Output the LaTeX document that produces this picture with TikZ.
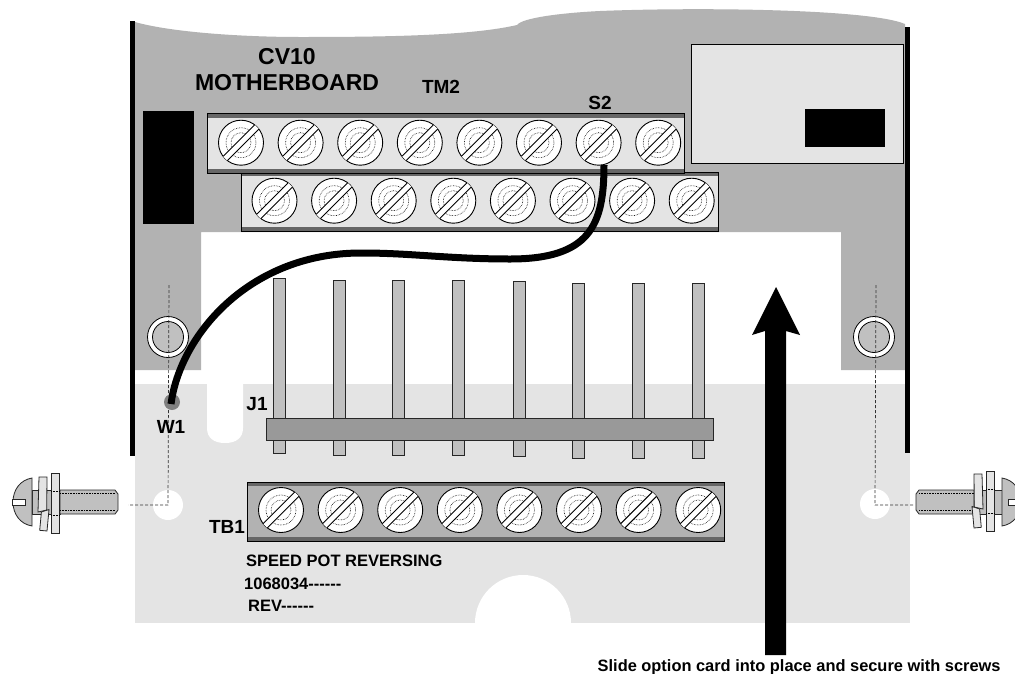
\documentclass[tikz,border=0pt]{standalone}
\usepackage{fontspec}
\setmainfont{Liberation Sans}
\usetikzlibrary{positioning}
\usetikzlibrary{calc}
\definecolor{boardgray}{HTML}{B2B2B2}
\definecolor{cardgray}{HTML}{E4E4E4}
\definecolor{pingray}{HTML}{C0C0C0}
\definecolor{bargray}{HTML}{999999}
\definecolor{bandgray}{HTML}{666666}
\tikzset{
    label big/.style={inner sep=0pt, font=\bfseries\fontsize{23}{25}\selectfont},
    label mid/.style={inner sep=0pt, font=\bfseries\fontsize{19}{21}\selectfont},
    label small/.style={inner sep=0pt, anchor=west, font=\bfseries\fontsize{16.5}{18}\selectfont},
    guide/.style={draw=black!80, densely dashed, line width=0.7pt},
    part/.style={draw=black!85, line width=0.8pt},
    tmscrew/.pic={
        \draw[line width=0.9pt, fill=white] (0,0) circle (22.5);
        \draw[line width=0.6pt, densely dotted] (0,0) circle (15);
        \draw[line width=0.6pt, densely dotted] (0,0) circle (10);
        \fill[white] (17.9,-13.65) -- (-13.65,17.9) -- (-17.9,13.65) -- (13.65,-17.9) -- cycle;
        \draw[line width=0.9pt] (17.9,-13.65) -- (-13.65,17.9);
        \draw[line width=0.9pt] (13.65,-17.9) -- (-17.9,13.65);
    },
    bolt/.pic={
        % shank and head
        \draw[part, fill=pingray] (0,-12) rectangle (28,12);
        \draw[part, fill=pingray] (28,-12) -- (83,-12) -- (86,-8) -- (86,8) -- (83,12) -- (28,12) -- cycle;
        \draw[line width=0.6pt, densely dotted] (28,-8.5) -- (83,-8.5);
        \draw[line width=0.6pt, densely dotted] (28,8.5) -- (83,8.5);
        \draw[part, fill=pingray] (0,-24) .. controls (-12,-22) and (-19,-12) .. (-19,0)
            .. controls (-19,12) and (-12,22) .. (0,24) -- cycle;
        \draw[part, fill=white] (-19.5,-3) rectangle (-6.5,3);
    },
    flatwasher/.pic={
        \draw[part, fill=cardgray] (-4,-30) rectangle (4,30);
        \draw[line width=0.5pt, densely dotted] (-4,-12) -- (4,-12);
        \draw[line width=0.5pt, densely dotted] (-4,12) -- (4,12);
    },
    lockwasher/.pic={
        \draw[part, fill=cardgray] (-4,-26) -- (4,-26) -- (3.7,7) -- (-5,9) -- cycle;
        \draw[part, fill=cardgray] (-1.6,9) -- (6,6.5) -- (4,28) -- (-3.3,27.3) -- cycle;
    }
}

\begin{document}
\begin{tikzpicture}[x=1pt,y=-1pt]
        \clip (0,0) rectangle (1015,673);
        \fill[white] (0,0) rectangle (1015,673);

        % Motherboard
        \fill[boardgray] (135,22) .. controls (170,32) and (240,37) .. (300,37)
            .. controls (380,37) and (470,36) .. (517,25)
            .. controls (522,18) and (560,13) .. (600,11)
            .. controls (700,7) and (870,9) .. (905,24)
            -- (905,370) -- (841,370) -- (841,232) -- (201,232) -- (201,370) -- (135,370) -- cycle;

        % Option card
        \fill[cardgray] (135,384) rectangle (910,623);
        \fill[white] (207,384) -- (243,384) -- (243,428) .. controls (243,438) and (236,443) .. (225,443)
            .. controls (214,443) and (207,438) .. (207,428) -- cycle;
        \fill[white] (523,623) circle (48);
        \fill[white] (470,623) rectangle (576,630);
        \fill[white] (168,505) circle (15);
        \fill[white] (875,504) circle (15);

        % Side rails
        \fill[black] (130,21) rectangle (135,456);
        \fill[black] (905,27) rectangle (910,453);

        % Blocks on the motherboard
        \fill[black] (143,111) rectangle (194,224);
        \draw[line width=0.8pt, fill=cardgray] (691,44) rectangle (903,163);
        \fill[black] (805,109) rectangle (885,147);

        % Terminal strips
        \draw[line width=0.8pt, fill=cardgray] (241,172) rectangle (718,231);
        \fill[bandgray] (241,172) rectangle (718,176);
        \fill[bandgray] (241,227) rectangle (718,231);
        \draw[line width=0.8pt] (241,172) rectangle (718,231);
        \draw[line width=0.8pt, fill=cardgray] (207,113) rectangle (684,173);
        \fill[bandgray] (207,113) rectangle (684,118);
        \fill[bandgray] (207,169) rectangle (684,173);
        \draw[line width=0.8pt] (207,113) rectangle (684,173);
        \draw[line width=0.8pt, fill=boardgray] (247,482) rectangle (724,541);
        \fill[bandgray] (247,482) rectangle (724,486);
        \fill[bandgray] (247,537) rectangle (724,541);
        \draw[line width=0.8pt] (247,482) rectangle (724,541);
        \foreach \col in {0,...,7} {
            \pic at ({241+59.6*\col},142.7) {tmscrew};
            \pic at ({274.5+59.6*\col},200.7) {tmscrew};
            \pic at ({281+59.6*\col},510) {tmscrew};
        }

        % Pins of J1
        \foreach \pinx/\pintop in {273/278,333/280,392/280,452/280,513/281,572/283,632/283,692/283} {
            \draw[part, fill=pingray] (\pinx,\pintop) rectangle ({\pinx+12},{\pintop+175});
        }
        \draw[part, fill=bargray] (266,418) rectangle (713,440);

        % Standoffs
        \draw[line width=0.8pt, fill=white] (168,337) circle (20.5);
        \draw[line width=0.8pt, fill=pingray] (168,337) circle (15.5);
        \draw[line width=0.8pt, fill=white] (874,337) circle (20.5);
        \draw[line width=0.8pt, fill=pingray] (874,337) circle (15.5);

        % Guide lines
        \coordinate (guideLtop) at (169,285);
        \coordinate (guideLhole) at (168,505);
        \coordinate (guideLend) at (128,505);
        \coordinate (guideRtop) at (876,285);
        \coordinate (guideRhole) at (875,505);
        \coordinate (guideRend) at (913,505);
        \draw[guide] (guideLtop) -- (guideLhole) -- (guideLend);
        \draw[guide] (guideRtop) -- (guideRhole) -- (guideRend);

        % Jumper wire
        \coordinate (wireS) at (604,165);
        \coordinate (wireW) at (171,404);
        \fill[black!50] (172,402) circle (8);
        \draw[line width=7pt] (wireW) .. controls (180,335) and (250,252) .. (363,253)
            .. controls (410,253) and (450,259) .. (510,259)
            .. controls (590,259) and (604,225) .. (wireS);

        % Screws at both sides
        \pic at (32,502) {bolt};
        \pic at (43,503) {lockwasher};
        \pic at (55,503.5) {flatwasher};
        \pic[xscale=-1] at (1002,502) {bolt};
        \pic at (990,501) {flatwasher};
        \pic[xscale=-1] at (978,500) {lockwasher};

        % Insert arrow
        \coordinate (arrowtip) at (776,287);
        \fill[black] (arrowtip) -- (800,335) -- (786,331) -- (786,655) -- (765,655) -- (765,331) -- (752,335) -- cycle;

        % Labels
        \node[label big] (cv10) at (287,57) {CV10};
        \node[label big] (motherboard) at (287,83) {MOTHERBOARD};
        \node[label mid] (tm2) at (441,87) {TM2};
        \node[label mid] (s2) at (600,103) {S2};
        \node[label mid] (j1) at (257,404) {J1};
        \node[label mid] (w1) at (171,427) {W1};
        \node[label mid] (tb1) at (227,527) {TB1};
        \node[label small] (speedpot) at (246,561) {SPEED POT REVERSING};
        \node[label small] (partno) at (244,584) {1068034-{}-{}-{}-{}-{}-};
        \node[label small] (rev) at (248,606) {REV-{}-{}-{}-{}-{}-};
        \node[inner sep=0pt, anchor=base west, font=\bfseries\fontsize{16.4}{18}\selectfont] (slide) at (597.5,671) {Slide option card into place and secure with screws};
\end{tikzpicture}
\end{document}
